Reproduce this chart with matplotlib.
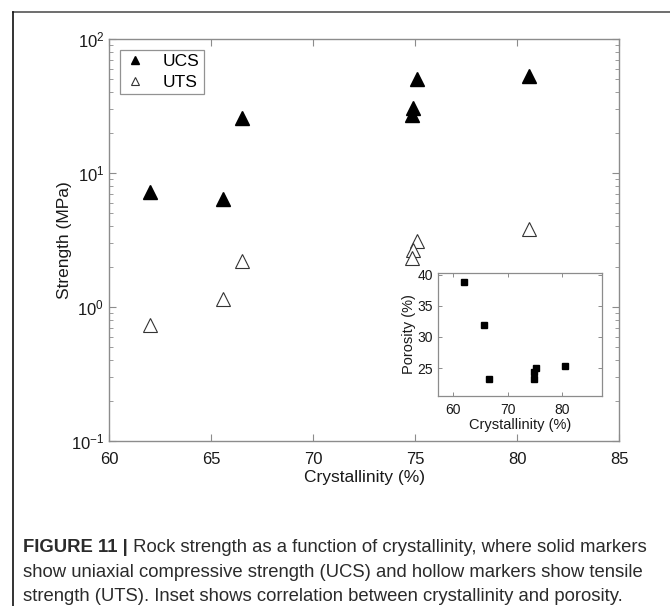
import matplotlib
matplotlib.use("Agg")
import matplotlib.pyplot as plt
from matplotlib.lines import Line2D
from matplotlib.ticker import LogLocator, NullFormatter
import numpy as np

plt.rcParams['font.family'] = ['Liberation Sans', 'DejaVu Sans']

# strength data (MPa) vs crystallinity (%)
ucs_cryst = [62.0, 65.6, 66.5, 74.9, 74.85, 75.1, 80.6]
ucs_mpa = [7.2, 6.4, 25.9, 30.4, 26.9, 50.2, 52.9]
uts_cryst = [62.0, 65.6, 66.5, 75.1, 74.9, 74.85, 80.6]
uts_mpa = [0.74, 1.15, 2.22, 3.09, 2.66, 2.31, 3.82]

# inset: porosity (%) vs crystallinity (%)
inset_cryst = [62.0, 65.6, 66.5, 74.85, 74.9, 75.1, 80.6]
inset_poro = [38.9, 31.9, 23.2, 23.2, 24.3, 25.05, 25.3]

caption_bold = "FIGURE 11 |"
caption_lines = [
    " Rock strength as a function of crystallinity, where solid markers",
    "show uniaxial compressive strength (UCS) and hollow markers show tensile",
    "strength (UTS). Inset shows correlation between crystallinity and porosity.",
]

W, H = 670, 606
fig = plt.figure(figsize=(W / 100, H / 100), dpi=100)

def px_axes(x0, y0, x1, y1):
    return fig.add_axes([x0 / W, 1 - y1 / H, (x1 - x0) / W, (y1 - y0) / H])

spine_col = '#8c8c8c'

ax = px_axes(109, 39, 619, 441)
ax.plot(ucs_cryst, ucs_mpa, linestyle='none', marker='^', ms=9.5,
        mfc='black', mec='black', label='UCS')
ax.plot(uts_cryst, uts_mpa, linestyle='none', marker='^', ms=9.5,
        mfc='white', mec='#333333', mew=0.8, label='UTS')
ax.set_yscale('log')
ax.set_xlim(60, 85)
ax.set_ylim(0.1, 100)
ax.set_xticks([60, 65, 70, 75, 80, 85])
ax.yaxis.set_major_locator(LogLocator(base=10, numticks=10))
ax.yaxis.set_minor_locator(LogLocator(base=10, subs=np.arange(2, 10), numticks=10))
ax.yaxis.set_minor_formatter(NullFormatter())
ax.tick_params(which='both', direction='in', top=True, right=True,
               color=spine_col, labelsize=12, labelcolor='#1a1a1a')
ax.tick_params(which='major', length=5, width=0.8)
ax.tick_params(which='minor', length=3, width=0.6)
ax.tick_params(axis='x', pad=8)
for s in ax.spines.values():
    s.set_color(spine_col)
    s.set_linewidth(1.0)
ax.set_xlabel('Crystallinity (%)', fontsize=12.5, color='#1a1a1a', labelpad=2)
ax.set_ylabel('Strength (MPa)', fontsize=12.5, color='#1a1a1a', labelpad=-1)

leg = ax.legend(loc='upper left', fontsize=12.5, markerscale=0.55,
                handlelength=1.2, handletextpad=1.0, borderpad=0.25,
                labelspacing=0.3, fancybox=False, frameon=True,
                bbox_to_anchor=(0.022, 0.973), borderaxespad=0)
leg.get_frame().set_edgecolor('#777777')
leg.get_frame().set_linewidth(0.9)

# inset
ins = px_axes(438, 273, 602, 396)
ins.plot(inset_cryst, inset_poro, linestyle='none', marker='s', ms=5,
         mfc='black', mec='black')
ins.set_xlim(57.2, 87.3)
ins.set_ylim(20.5, 40.3)
ins.set_xticks([60, 70, 80])
ins.set_yticks([25, 30, 35, 40])
ins.tick_params(direction='in', top=True, right=True, color=spine_col,
                labelsize=10, labelcolor='#1a1a1a', length=3, width=0.7)
ins.tick_params(axis='x', pad=5)
for s in ins.spines.values():
    s.set_color(spine_col)
    s.set_linewidth(0.9)
ins.set_xlabel('Crystallinity (%)', fontsize=10.5, color='#1a1a1a', labelpad=1)
ins.set_ylabel('Porosity (%)', fontsize=10.5, color='#1a1a1a', labelpad=1)

# frame lines around the figure panel
fig.add_artist(Line2D([13 / W, 1], [1 - 12 / H, 1 - 12 / H], color='#555555', lw=1.2))
fig.add_artist(Line2D([13 / W, 13 / W], [0, 1 - 12 / H], color='#111111', lw=1.2))

# caption
cap_kw = dict(fontsize=13.3, color='#2b2b2b', va='baseline', ha='left')
x0 = 23 / W
t = fig.text(x0, 1 - 552 / H, caption_bold, fontweight='bold', **cap_kw)
fig.canvas.draw()
bb = t.get_window_extent()
fig.text(bb.x1 / W, 1 - 552 / H, caption_lines[0], **cap_kw)
fig.text(x0, 1 - 577 / H, caption_lines[1], **cap_kw)
fig.text(x0, 1 - 601 / H, caption_lines[2], **cap_kw)

fig.savefig('out.png', dpi=100)
